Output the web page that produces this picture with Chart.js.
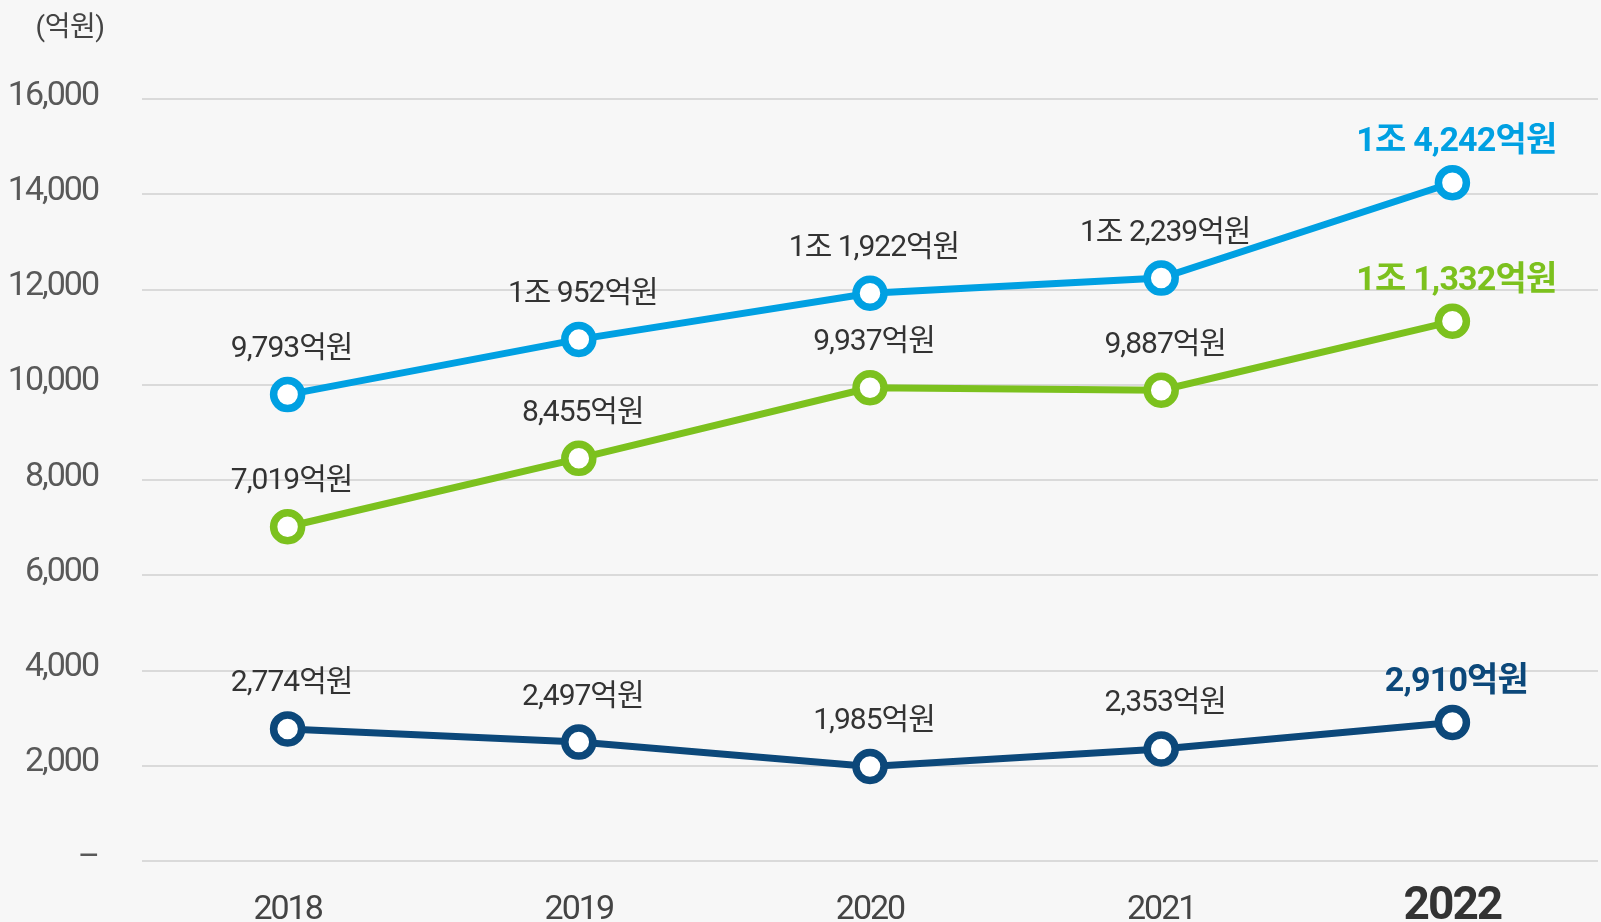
<!DOCTYPE html>
<html>
<head>
<meta charset="utf-8">
<script src="https://cdn.jsdelivr.net/npm/chart.js@4.4.0/dist/chart.umd.min.js"></script>
<style>
  html, body { margin: 0; padding: 0; background: #f7f7f7; overflow: hidden; }
  #wrap { width: 1601px; height: 922px; }
</style>
</head>
<body>
<div id="wrap"><canvas id="sales" width="1601" height="922"></canvas></div>
<script>
  var years = ['2018', '2019', '2020', '2021', '2022'];
  var blueValues = [9793, 10952, 11922, 12239, 14242];
  var greenValues = [7019, 8455, 9937, 9887, 11332];
  var navyValues = [2774, 2497, 1985, 2353, 2910];
  var unitLabel = '(억원)';

  var FONT = "Roboto, 'Noto Sans CJK KR', sans-serif";

  // 1조 = 10,000억원
  function wonLabel(v) {
    if (v >= 10000) return '1조 ' + (v - 10000).toLocaleString('en-US') + '억원';
    return v.toLocaleString('en-US') + '억원';
  }

  var textSpacing = {
    id: 'textSpacing',
    beforeUpdate: function(chart) { chart.ctx.letterSpacing = '-2px'; },
    beforeDraw: function(chart) { chart.ctx.letterSpacing = '-2px'; }
  };

  var pointLabels = {
    id: 'pointLabels',
    afterDatasetsDraw: function(chart) {
      var c = chart.ctx;
      c.save();
      c.textAlign = 'center';
      c.textBaseline = 'middle';
      chart.data.datasets.forEach(function(ds, di) {
        var meta = chart.getDatasetMeta(di);
        meta.data.forEach(function(pt, i) {
          var last = i === ds.data.length - 1;
          var dy = 45;
          if (last) {
            c.font = 'bold 34px ' + FONT;
            c.fillStyle = ds.borderColor;
            c.letterSpacing = '-0.8px';
            dy = 40;
          } else {
            c.font = '30px ' + FONT;
            c.fillStyle = '#333333';
            c.letterSpacing = '-1px';
          }
          c.fillText(wonLabel(ds.data[i]), pt.x + 4, pt.y - dy);
        });
      });
      c.font = '28px ' + FONT;
      c.fillStyle = '#444444';
      c.letterSpacing = '-0.5px';
      c.fillText(unitLabel, 70, 29);
      c.restore();
    }
  };

  function lineSet(values, color) {
    return {
      data: values,
      borderColor: color,
      backgroundColor: '#ffffff',
      borderWidth: 7,
      tension: 0,
      pointRadius: 14,
      pointHoverRadius: 14,
      pointBorderWidth: 7.5,
      pointBackgroundColor: '#ffffff',
      pointBorderColor: color
    };
  }

  const ctx = document.getElementById('sales');

  new Chart(ctx, {
    type: 'line',
    data: {
      labels: years,
      datasets: [
        lineSet(blueValues, '#00a0e2'),
        lineSet(greenValues, '#7cc11e'),
        lineSet(navyValues, '#0c487a')
      ]
    },
    options: {
      responsive: false,
      animation: false,
      layout: { autoPadding: false, padding: { left: 8, right: 3, top: 99, bottom: 0 } },
      plugins: {
        legend: { display: false },
        tooltip: { enabled: false }
      },
      scales: {
        x: {
          offset: true,
          afterFit: function(scale) {
            scale.height = 61;
            scale.paddingLeft = 0;
            scale.paddingRight = 0;
          },
          grid: { display: false, drawTicks: false },
          border: { display: false },
          ticks: {
            padding: 30,
            color: function(c) { return c.index === 4 ? '#333333' : '#444444'; },
            font: function(c) {
              if (c.index === 4) return { family: FONT, size: 46, weight: 'bold', lineHeight: 0.717 };
              return { family: FONT, size: 34, lineHeight: 1.176 };
            }
          }
        },
        y: {
          min: 0,
          max: 16000,
          afterFit: function(scale) {
            scale.width = 134;
            scale.paddingTop = 0;
            scale.paddingBottom = 0;
          },
          grid: { color: '#dadada', lineWidth: 2, drawTicks: false },
          border: { display: false },
          ticks: {
            stepSize: 2000,
            padding: 44,
            labelOffset: -3,
            color: '#595959',
            font: { family: FONT, size: 34 },
            callback: function(v) { return v === 0 ? '–' : v.toLocaleString('en-US'); }
          }
        }
      }
    },
    plugins: [textSpacing, pointLabels]
  });
</script>
</body>
</html>
